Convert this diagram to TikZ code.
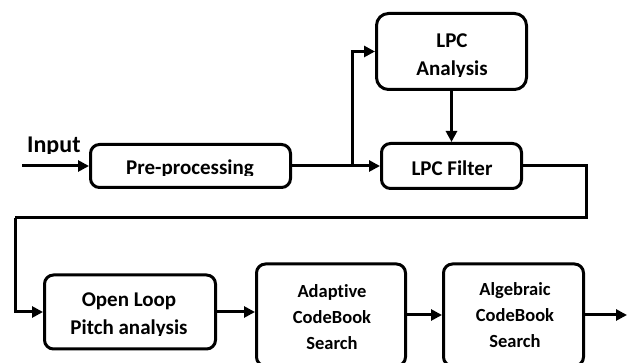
\documentclass[tikz,border=0pt]{standalone}
\usepackage{fontspec}
\setmainfont{Carlito}[Ligatures=NoCommon]
\usetikzlibrary{arrows.meta,positioning,calc}

\tikzset{
  blk/.style={draw,line width=3pt,rounded corners=9pt,inner sep=0pt},
  lbl/.style={font=\bfseries\fontsize{21}{28}\selectfont,inner sep=0pt,align=center},
  lblsm/.style={font=\bfseries\fontsize{18.5}{26}\selectfont,inner sep=0pt,align=center},
  flow/.style={line width=3pt,-{Triangle[length=11pt,width=11pt]}},
  wire/.style={line width=3pt},
}

\begin{document}
\begin{tikzpicture}[x=1pt,y=-1pt]
  \useasboundingbox (0,0) rectangle (633,363);

  % blocks
  \node[blk,minimum width=200pt,minimum height=43pt] (pre) at (190.5,166) {};
  \node[blk,minimum width=150pt,minimum height=76pt,rounded corners=12pt] (lpca) at (451.5,51.5) {};
  \node[blk,minimum width=140pt,minimum height=45pt] (lpcf) at (451.5,166) {};
  \node[blk,minimum width=171pt,minimum height=74pt] (olpa) at (130,312) {};
  \node[blk,minimum width=149pt,minimum height=102pt] (acb) at (331,315) {};
  \node[blk,minimum width=140pt,minimum height=102pt] (alcb) at (513.5,315) {};

  % labels (bottoms of the lower lines are cut off)
  \begin{scope}
    \clip (20,120) rectangle (88,153.5);
    \node[font=\bfseries\fontsize{24}{28}\selectfont,inner sep=0pt,anchor=base west] (inT) at (27,153) {Input};
  \end{scope}
  \begin{scope}
    \clip (pre.north west) rectangle (292,176);
    \node[lbl,anchor=base] (preT) at (190,175) {Pre-processing};
  \end{scope}
  \begin{scope}
    \clip (lpca.north west) rectangle (528,77);
    \node[lbl,anchor=base] (lpcaT) at (452,76) {LPC\\Analysis};
  \end{scope}
  \node[lbl,anchor=base] (lpcfT) at (452,176) {LPC Filter};
  \begin{scope}
    \clip (olpa.north west) rectangle (217,336);
    \node[lbl,anchor=base] (olpaT) at (129,335) {Open Loop\\Pitch analysis};
  \end{scope}
  \node[lblsm,anchor=base] (acbT) at (332,350) {Adaptive\\CodeBook\\Search};
  \node[lblsm,anchor=base] (alcbT) at (515,348) {Algebraic\\CodeBook\\Search};

  % signal path
  \coordinate (in) at (22,166);
  \coordinate (split) at (352,166);
  \coordinate (backR) at (586,218);
  \coordinate (backL) at (15,218);
  \coordinate (out) at (627,315);

  \draw[flow] (in) -- (pre.west);
  \draw[flow] (pre.east) -- (lpcf.west);
  \draw[flow] (split) |- (lpca.west);
  \draw[flow] (lpca.south) -- (lpcf.north);
  \draw[wire] (lpcf.east) -| (backR) -- (backL);
  \draw[flow] (backL) |- (olpa.west);
  \draw[flow] (olpa.east) -- (olpa.east -| acb.west);
  \draw[flow] (acb.east) -- (alcb.west);
  \draw[flow] (alcb.east) -- (out);
\end{tikzpicture}
\end{document}
